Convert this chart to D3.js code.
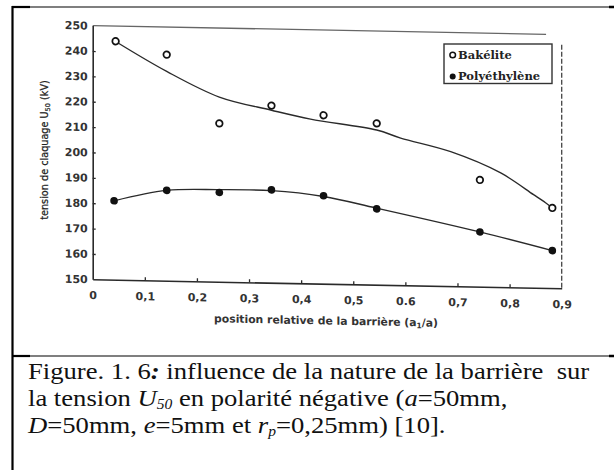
<!DOCTYPE html>
<html>
<head>
<meta charset="utf-8">
<script src="https://cdn.jsdelivr.net/npm/d3@7"></script>
<style>
  body { margin: 0; background: #fff; }
  svg { display: block; }
</style>
</head>
<body>
<div id="container"></div>
<script>
let w = 614;
let h = 470;

// DATA
let bakeliteX = [0.044, 0.142, 0.243, 0.343, 0.443, 0.545, 0.743, 0.882];
let bakeliteY = [244.0, 239.1, 212.4, 219.8, 216.4, 213.6, 192.1, 181.6];
let polyX = [0.041, 0.142, 0.243, 0.343, 0.443, 0.545, 0.743, 0.882];
let polyY = [181.1, 185.6, 185.2, 186.6, 184.7, 179.9, 171.6, 164.8];

// fitted curves drawn in the figure
let bakeliteFitX = [0.044, 0.142, 0.243, 0.343, 0.418, 0.545, 0.591, 0.687, 0.783, 0.846, 0.869, 0.882];
let bakeliteFitY = [243.9, 232.5, 222.8, 218.0, 214.8, 211.0, 208.0, 203.0, 195.0, 186.7, 183.6, 181.6];
let polyFitX = [0.041, 0.142, 0.243, 0.343, 0.443, 0.545, 0.743, 0.882];
let polyFitY = [181.1, 185.6, 186.3, 186.3, 184.4, 180.2, 171.6, 164.8];

let xTicks = [0, 0.1, 0.2, 0.3, 0.4, 0.5, 0.6, 0.7, 0.8, 0.9];
let xTickLabels = ["0", "0,1", "0,2", "0,3", "0,4", "0,5", "0.6", "0,7", "0,8", "0,9"];
let yTicks = [150, 160, 170, 180, 190, 200, 210, 220, 230, 240, 250];
let legendNames = ["Bakélite", "Polyéthylène"];

let ink = "#2a2a2a";

let viz = d3.select("#container").append("svg")
    .attr("width", w)
    .attr("height", h)
    .style("background-color", "white");

// page frame around the figure
viz.append("line").attr("x1", 12).attr("x2", 614).attr("y1", 7).attr("y2", 7)
    .attr("stroke", "#555").attr("stroke-width", 1.3);
viz.append("line").attr("x1", 12).attr("x2", 614).attr("y1", 356).attr("y2", 356)
    .attr("stroke", "#555").attr("stroke-width", 1.3);
[7, 356].forEach(function(yy){
  viz.append("line").attr("x1", 12).attr("x2", 30).attr("y1", yy).attr("y2", yy)
      .attr("stroke", "black").attr("stroke-width", 2.2);
  viz.append("line").attr("x1", 609).attr("x2", 614).attr("y1", yy).attr("y2", yy)
      .attr("stroke", "black").attr("stroke-width", 2.5);
});
viz.append("line").attr("x1", 12.5).attr("x2", 12.5).attr("y1", 6).attr("y2", 470)
    .attr("stroke", "black").attr("stroke-width", 2.2);

// SCALES
let xScale = d3.scaleLinear().domain([0, 0.9]).range([92.7, 561.7]);
let yScale = d3.scaleLinear().domain([150, 250]).range([279.3, 25.6]);

// the scan is slightly sheared, so the plot gets a small skew
let x0 = 92.7;
let plot = viz.append("g")
    .attr("transform", "translate(" + x0 + ",0) skewY(1.1) translate(" + (-x0) + ",0)");

// top border and dashed right border
plot.append("line")
    .attr("x1", xScale(0)).attr("x2", xScale(0.87))
    .attr("y1", yScale(250)).attr("y2", yScale(250))
    .attr("stroke", "#666").attr("stroke-width", 1.3);
plot.append("line")
    .attr("x1", xScale(0.9)).attr("x2", xScale(0.9))
    .attr("y1", yScale(246)).attr("y2", yScale(150))
    .attr("stroke", "#444").attr("stroke-width", 1.3)
    .attr("stroke-dasharray", "5,2");

// AXES
let xAxis = d3.axisBottom(xScale)
    .tickValues(xTicks)
    .tickFormat(function(d, i){ return xTickLabels[i]; })
    .tickSizeInner(-3)
    .tickSizeOuter(0)
    .tickPadding(12);
let yAxis = d3.axisLeft(yScale)
    .tickValues(yTicks)
    .tickSizeInner(-3)
    .tickSizeOuter(0)
    .tickPadding(5);

let gx = plot.append("g").attr("transform", "translate(0," + yScale(150) + ")").call(xAxis);
let gy = plot.append("g").attr("transform", "translate(" + xScale(0) + ",0)").call(yAxis);

[gx, gy].forEach(function(g){
  g.select(".domain").attr("stroke", ink).attr("stroke-width", 1.6);
  g.selectAll(".tick line").attr("stroke", ink).attr("stroke-width", 1.3);
  g.selectAll(".tick text")
      .attr("fill", "#333")
      .style("font-family", "'DejaVu Sans', sans-serif")
      .style("font-weight", "bold")
      .style("font-size", "11px");
});
// ends of the x axis and the y=150 tick carry no tick mark
gx.selectAll(".tick line").filter(function(d){ return d == 0 || d == 0.9; }).remove();
gy.selectAll(".tick line").filter(function(d){ return d == 150 || d == 250; }).remove();

// x axis title
let xt = plot.append("text")
    .attr("x", 326).attr("y", 320)
    .attr("text-anchor", "middle")
    .attr("fill", "#333")
    .style("font-family", "'DejaVu Sans', sans-serif")
    .style("font-weight", "bold")
    .style("font-size", "10.8px");
xt.append("tspan").text("position relative de la barrière (a");
xt.append("tspan").attr("dy", 2).style("font-size", "7.5px").text("1");
xt.append("tspan").attr("dy", -2).text("/a)");

// LINES
let lineMaker = d3.line()
    .x(function(d){ return xScale(d[0]); })
    .y(function(d){ return yScale(d[1]); })
    .curve(d3.curveCatmullRom);

plot.append("path")
    .attr("d", lineMaker(bakeliteFitX.map(function(v, i){ return [v, bakeliteFitY[i]]; })))
    .attr("fill", "none").attr("stroke", ink).attr("stroke-width", 1.4);
plot.append("path")
    .attr("d", lineMaker(polyFitX.map(function(v, i){ return [v, polyFitY[i]]; })))
    .attr("fill", "none").attr("stroke", ink).attr("stroke-width", 1.4);

// POINTS
plot.selectAll(".bak").data(bakeliteX).enter()
  .append("circle")
    .attr("class", "bak")
    .attr("cx", function(d){ return xScale(d); })
    .attr("cy", function(d, i){ return yScale(bakeliteY[i]); })
    .attr("r", 3.3)
    .attr("fill", "white")
    .attr("stroke", "#111")
    .attr("stroke-width", 1.7);
plot.selectAll(".poly").data(polyX).enter()
  .append("circle")
    .attr("class", "poly")
    .attr("cx", function(d){ return xScale(d); })
    .attr("cy", function(d, i){ return yScale(polyY[i]); })
    .attr("r", 3.8)
    .attr("fill", "#111");

// y axis title
let yt = viz.append("text")
    .attr("transform", "translate(48,150) rotate(-90)")
    .attr("text-anchor", "middle")
    .attr("fill", "#222")
    .attr("stroke", "#222")
    .attr("stroke-width", 0.25)
    .style("font-family", "'DejaVu Sans', sans-serif")
    .style("font-size", "9.7px");
yt.append("tspan").text("tension de claquage U");
yt.append("tspan").attr("dy", 2).style("font-size", "6.5px").text("50");
yt.append("tspan").attr("dy", -2).text(" (kV)");

// LEGEND
let legend = viz.append("g");
legend.append("rect")
    .attr("x", 444).attr("y", 44).attr("width", 108).attr("height", 39.5)
    .attr("fill", "white").attr("stroke", "#333").attr("stroke-width", 1.4);
legend.append("circle").attr("cx", 452.7).attr("cy", 55).attr("r", 2.8)
    .attr("fill", "white").attr("stroke", "#111").attr("stroke-width", 1.5);
legend.append("circle").attr("cx", 452.7).attr("cy", 76.5).attr("r", 3)
    .attr("fill", "#111");
legend.selectAll(".lt").data(legendNames).enter()
  .append("text")
    .attr("class", "lt")
    .attr("x", 458)
    .attr("y", function(d, i){ return i == 0 ? 58.5 : 80; })
    .attr("fill", "#222")
    .style("font-family", "'DejaVu Serif', serif")
    .style("font-weight", "bold")
    .style("font-size", "11.5px")
    .text(function(d){ return d; });

// CAPTION (the scanned page is a bit stretched sideways)
let cap = viz.append("g")
    .attr("transform", "translate(28,0) scale(1.11,1) translate(-28,0)")
    .style("font-family", "'Liberation Serif', 'Times New Roman', serif")
    .style("font-size", "24px")
    .attr("fill", "#111");

let l1 = cap.append("text").attr("x", 28).attr("y", 379.3).attr("xml:space", "preserve");
l1.append("tspan").text("Figure. 1. 6");
l1.append("tspan").style("font-style", "italic").style("font-weight", "bold").text(":");
l1.append("tspan").text(" influence de la nature de la barrière  sur");

let l2 = cap.append("text").attr("x", 28).attr("y", 406);
l2.append("tspan").text("la tension ");
l2.append("tspan").style("font-style", "italic").text("U");
l2.append("tspan").style("font-style", "italic").style("font-size", "14px").attr("dy", 3).text("50");
l2.append("tspan").attr("dy", -3).text(" en polarité négative (");
l2.append("tspan").style("font-style", "italic").text("a");
l2.append("tspan").text("=50mm,");

let l3 = cap.append("text").attr("x", 28).attr("y", 432.7);
l3.append("tspan").style("font-style", "italic").text("D");
l3.append("tspan").text("=50mm, ");
l3.append("tspan").style("font-style", "italic").text("e");
l3.append("tspan").text("=5mm et ");
l3.append("tspan").style("font-style", "italic").text("r");
l3.append("tspan").style("font-style", "italic").style("font-size", "14px").attr("dy", 3).text("p");
l3.append("tspan").attr("dy", -3).text("=0,25mm) [10].");
</script>
</body>
</html>
